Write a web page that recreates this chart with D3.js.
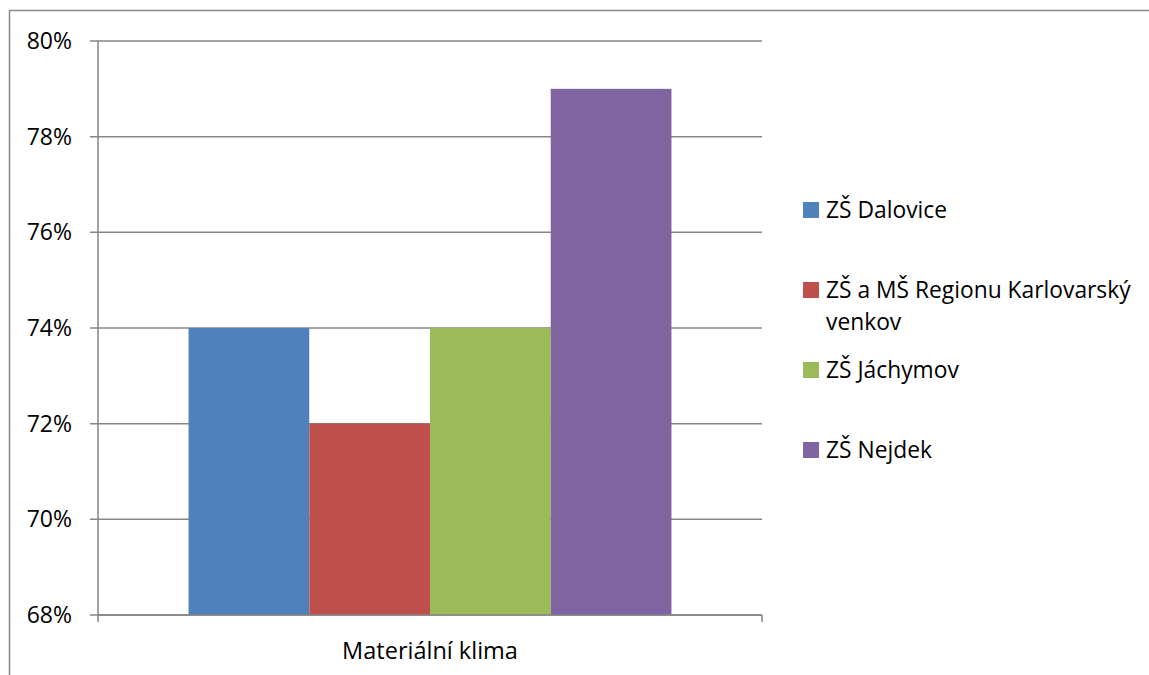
<!DOCTYPE html>
<html>
<head>
<meta charset="utf-8">
<script src="https://cdn.jsdelivr.net/npm/d3@7"></script>
<style>
    body { margin: 0; background: #fff; }
    svg text { font-family: "Open Sans", sans-serif; fill: #000; }
</style>
</head>
<body>
<div id="chart-area"></div>
<script>
var categories = ["Materiální klima"];
var seriesNames = ["ZŠ Dalovice", "ZŠ a MŠ Regionu Karlovarský venkov", "ZŠ Jáchymov", "ZŠ Nejdek"];
var seriesValues = [74, 72, 74, 79];
var seriesColors = ["#4f81bd", "#c0504d", "#9bbb59", "#8064a2"];
var yTicks = [68, 70, 72, 74, 76, 78, 80];

var margin = { top: 41, left: 98 };
var width = 762 - 98;
var height = 615 - 41;

var svg = d3.select("#chart-area")
    .append("svg")
        .attr("width", 1149)
        .attr("height", 675);

// outer chart frame (runs past the picture on right and bottom)
svg.append("rect")
    .attr("x", 9.5)
    .attr("y", 10.5)
    .attr("width", 1200)
    .attr("height", 700)
    .attr("fill", "none")
    .attr("stroke", "#898989")
    .attr("stroke-width", 1.5);

var g = svg.append("g")
    .attr("transform", "translate(" + margin.left + ", " + margin.top + ")");

var x = d3.scaleBand()
    .domain(categories)
    .range([0, width]);

var x1 = d3.scaleBand()
    .domain(seriesNames)
    .range([0, x.bandwidth()])
    .paddingOuter(0.75);

var y = d3.scaleLinear()
    .domain([68, 80])
    .range([height, 0]);

// gridlines
g.selectAll(".grid")
    .data(yTicks)
    .enter()
    .append("line")
        .attr("class", "grid")
        .attr("x1", -8)
        .attr("x2", width)
        .attr("y1", function(d) { return y(d); })
        .attr("y2", function(d) { return y(d); })
        .attr("stroke", "#868686")
        .attr("stroke-width", 1.5);

g.selectAll(".y-label")
    .data(yTicks)
    .enter()
    .append("text")
        .attr("class", "y-label")
        .attr("x", -26)
        .attr("y", function(d) { return y(d); })
        .attr("dy", "0.35em")
        .attr("text-anchor", "end")
        .attr("font-size", "23px")
        .text(function(d) { return d + "%"; });

// bars
categories.forEach(function(c) {
    g.selectAll(".bar")
        .data(seriesValues)
        .enter()
        .append("rect")
            .attr("class", "bar")
            .attr("x", function(d, i) { return x(c) + x1(seriesNames[i]); })
            .attr("y", function(d) { return y(d); })
            .attr("width", x1.bandwidth())
            .attr("height", function(d) { return height - y(d); })
            .attr("fill", function(d, i) { return seriesColors[i]; });
});

// axes lines
g.append("line")
    .attr("x1", 0).attr("x2", 0)
    .attr("y1", 0).attr("y2", height + 7)
    .attr("stroke", "#868686").attr("stroke-width", 1.5);

g.append("line")
    .attr("x1", 0).attr("x2", width)
    .attr("y1", height).attr("y2", height)
    .attr("stroke", "#868686").attr("stroke-width", 1.5);

g.append("line")
    .attr("x1", width).attr("x2", width)
    .attr("y1", height).attr("y2", height + 7)
    .attr("stroke", "#868686").attr("stroke-width", 1.5);

g.selectAll(".x-label")
    .data(categories)
    .enter()
    .append("text")
        .attr("class", "x-label")
        .attr("x", function(d) { return x(d) + x.bandwidth() / 2; })
        .attr("y", height + 44)
        .attr("text-anchor", "middle")
        .attr("font-size", "23.5px")
        .text(function(d) { return d; });

// legend
var legendRows = [
    { lines: ["ZŠ Dalovice"], y: 210 },
    { lines: ["ZŠ a MŠ Regionu Karlovarský", "venkov"], y: 290 },
    { lines: ["ZŠ Jáchymov"], y: 370 },
    { lines: ["ZŠ Nejdek"], y: 450 }
];

var legend = svg.selectAll(".legend")
    .data(legendRows)
    .enter()
    .append("g")
        .attr("class", "legend");

legend.append("rect")
    .attr("x", 803)
    .attr("y", function(d) { return d.y - 8; })
    .attr("width", 16)
    .attr("height", 16)
    .attr("fill", function(d, i) { return seriesColors[i]; });

legend.each(function(d) {
    var t = d3.select(this).append("text")
        .attr("font-size", "22.8px");
    d.lines.forEach(function(line, j) {
        t.append("tspan")
            .attr("x", 826)
            .attr("y", d.y + j * 32)
            .attr("dy", "0.35em")
            .text(line);
    });
});
</script>
</body>
</html>
